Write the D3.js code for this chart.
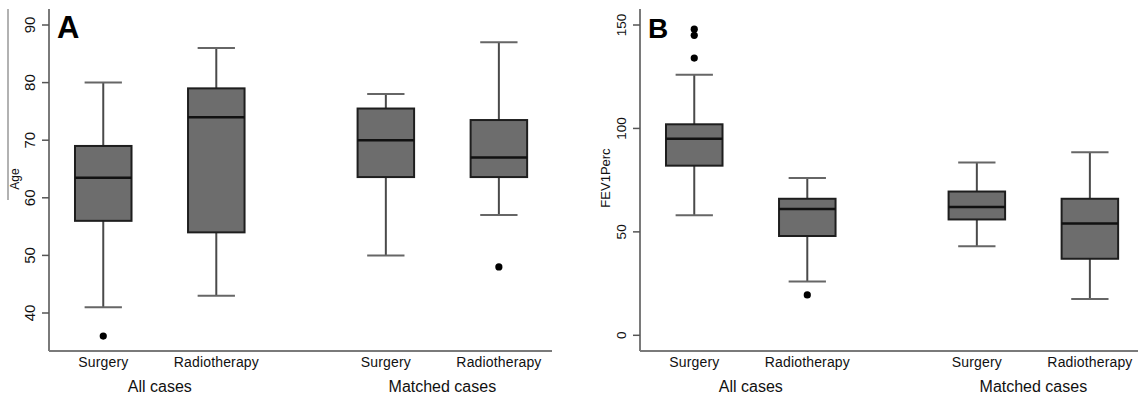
<!DOCTYPE html>
<html>
<head>
<meta charset="utf-8">
<script src="https://cdn.jsdelivr.net/npm/d3@7"></script>
<style>
  body { margin: 0; background: #fff; }
  text { font-family: "Liberation Sans", Arial, sans-serif; }
</style>
</head>
<body>
<div id="chart"></div>
<script>
// categories and positions on the x axis (units between boxes)
const categories = ["Surgery", "Radiotherapy", "Surgery", "Radiotherapy"];
const positions = [0, 1, 2.5, 3.5];
const groups = ["All cases", "Matched cases"];
const groupPos = [0.5, 3.0];

// panel A: Age
const ageLow = [41, 43, 50, 57];
const ageQ1 = [56, 54, 63.6, 63.6];
const ageMed = [63.5, 74, 70, 67];
const ageQ3 = [69, 79, 75.5, 73.5];
const ageHigh = [80, 86, 78, 87];
const ageOut = [[36], [], [], [48]];
const ageTicks = [40, 50, 60, 70, 80, 90];

// panel B: FEV1Perc
const fevLow = [58, 26, 43, 17.5];
const fevQ1 = [82, 48, 56, 37];
const fevMed = [95, 61, 62, 54];
const fevQ3 = [102, 66, 69.5, 66];
const fevHigh = [126, 76, 83.5, 88.5];
const fevOut = [[148, 145, 134], [19.5], [], []];
const fevTicks = [0, 50, 100, 150];

const W = 1138, H = 397;
const svg = d3.select("#chart").append("svg").attr("width", W).attr("height", H);

// stray scan line at the far left of panel A
svg.append("line").attr("x1", 8).attr("x2", 8).attr("y1", 9).attr("y2", 200)
  .attr("stroke", "#999").attr("stroke-width", 1.5);

function drawPanel(opt) {
  const x = d3.scaleLinear().domain([-0.48, 3.97]).range([opt.left, opt.left + 503]);
  const y = d3.scaleLinear().domain(opt.ydom).range(opt.yrange);
  const unit = x(1) - x(0);
  const g = svg.append("g");

  // axes lines
  g.append("line").attr("x1", opt.left).attr("x2", opt.left).attr("y1", 9).attr("y2", 351)
    .attr("stroke", "#7a7a7a").attr("stroke-width", 2);
  g.append("line").attr("x1", opt.left).attr("x2", opt.left + 503).attr("y1", 351).attr("y2", 351)
    .attr("stroke", "#7a7a7a").attr("stroke-width", 2);

  // y ticks
  const ticks = g.selectAll(".tick").data(opt.ticks).enter().append("g");
  ticks.append("line")
    .attr("x1", opt.left - 7).attr("x2", opt.left)
    .attr("y1", d => y(d)).attr("y2", d => y(d))
    .attr("stroke", "#555").attr("stroke-width", 1.5);
  ticks.append("text")
    .attr("transform", d => `translate(${opt.left - 14},${y(d)}) rotate(-90)`)
    .attr("text-anchor", "middle")
    .attr("font-size", opt.tickSize)
    .attr("fill", "#111")
    .text(d => d);

  // y label
  g.append("text")
    .attr("transform", `translate(${opt.ylabX},${opt.ylabY}) rotate(-90)`)
    .attr("text-anchor", "middle")
    .attr("font-size", opt.ylabSize)
    .attr("fill", "#111")
    .text(opt.ylabel);

  // panel letter
  g.append("text").attr("x", opt.left + opt.letterDx).attr("y", 38)
    .attr("font-size", opt.letterSize).attr("font-weight", "bold").attr("fill", "#000")
    .text(opt.letter);

  const boxW = unit * 0.5, capW = unit * 0.33;
  const idx = d3.range(categories.length);
  const box = g.selectAll(".box").data(idx).enter().append("g");

  // whiskers
  box.append("line")
    .attr("x1", i => x(positions[i])).attr("x2", i => x(positions[i]))
    .attr("y1", i => y(opt.q3[i])).attr("y2", i => y(opt.high[i]))
    .attr("stroke", "#4a4a4a").attr("stroke-width", 2);
  box.append("line")
    .attr("x1", i => x(positions[i])).attr("x2", i => x(positions[i]))
    .attr("y1", i => y(opt.q1[i])).attr("y2", i => y(opt.low[i]))
    .attr("stroke", "#4a4a4a").attr("stroke-width", 2);
  box.append("line")
    .attr("x1", i => x(positions[i]) - capW / 2).attr("x2", i => x(positions[i]) + capW / 2)
    .attr("y1", i => y(opt.high[i])).attr("y2", i => y(opt.high[i]))
    .attr("stroke", "#666").attr("stroke-width", 2);
  box.append("line")
    .attr("x1", i => x(positions[i]) - capW / 2).attr("x2", i => x(positions[i]) + capW / 2)
    .attr("y1", i => y(opt.low[i])).attr("y2", i => y(opt.low[i]))
    .attr("stroke", "#666").attr("stroke-width", 2);

  // boxes
  box.append("rect")
    .attr("x", i => x(positions[i]) - boxW / 2)
    .attr("y", i => y(opt.q3[i]))
    .attr("width", boxW)
    .attr("height", i => y(opt.q1[i]) - y(opt.q3[i]))
    .attr("fill", "#6d6d6d").attr("stroke", "#1e1e1e").attr("stroke-width", 2);
  box.append("line")
    .attr("x1", i => x(positions[i]) - boxW / 2).attr("x2", i => x(positions[i]) + boxW / 2)
    .attr("y1", i => y(opt.med[i])).attr("y2", i => y(opt.med[i]))
    .attr("stroke", "#111").attr("stroke-width", 2.5);

  // outliers
  box.selectAll("circle").data(i => opt.out[i].map(v => ({ i, v }))).enter().append("circle")
    .attr("cx", d => x(positions[d.i])).attr("cy", d => y(d.v)).attr("r", 3.6).attr("fill", "#000");

  // category labels
  g.selectAll(".cat").data(idx).enter().append("text")
    .attr("x", i => x(positions[i])).attr("y", 367)
    .attr("text-anchor", "middle").attr("font-size", 14).attr("fill", "#111")
    .attr("textLength", i => categories[i] === "Surgery" ? 50 : 85)
    .text(i => categories[i]);
  g.selectAll(".grp").data(groups).enter().append("text")
    .attr("x", (d, i) => x(groupPos[i])).attr("y", 392)
    .attr("text-anchor", "middle").attr("font-size", 16).attr("fill", "#111")
    .text(d => d);
}

drawPanel({
  left: 49, ydom: [40, 90], yrange: [313, 25], ticks: ageTicks,
  low: ageLow, q1: ageQ1, med: ageMed, q3: ageQ3, high: ageHigh, out: ageOut,
  ylabel: "Age", ylabX: 19, ylabY: 179, ylabSize: 12,
  letter: "A", letterDx: 8, letterSize: 31, tickSize: 15
});

drawPanel({
  left: 640, ydom: [0, 150], yrange: [335.3, 25], ticks: fevTicks,
  low: fevLow, q1: fevQ1, med: fevMed, q3: fevQ3, high: fevHigh, out: fevOut,
  ylabel: "FEV1Perc", ylabX: 610, ylabY: 178, ylabSize: 13,
  letter: "B", letterDx: 8, letterSize: 28, tickSize: 13.5
});
</script>
</body>
</html>
